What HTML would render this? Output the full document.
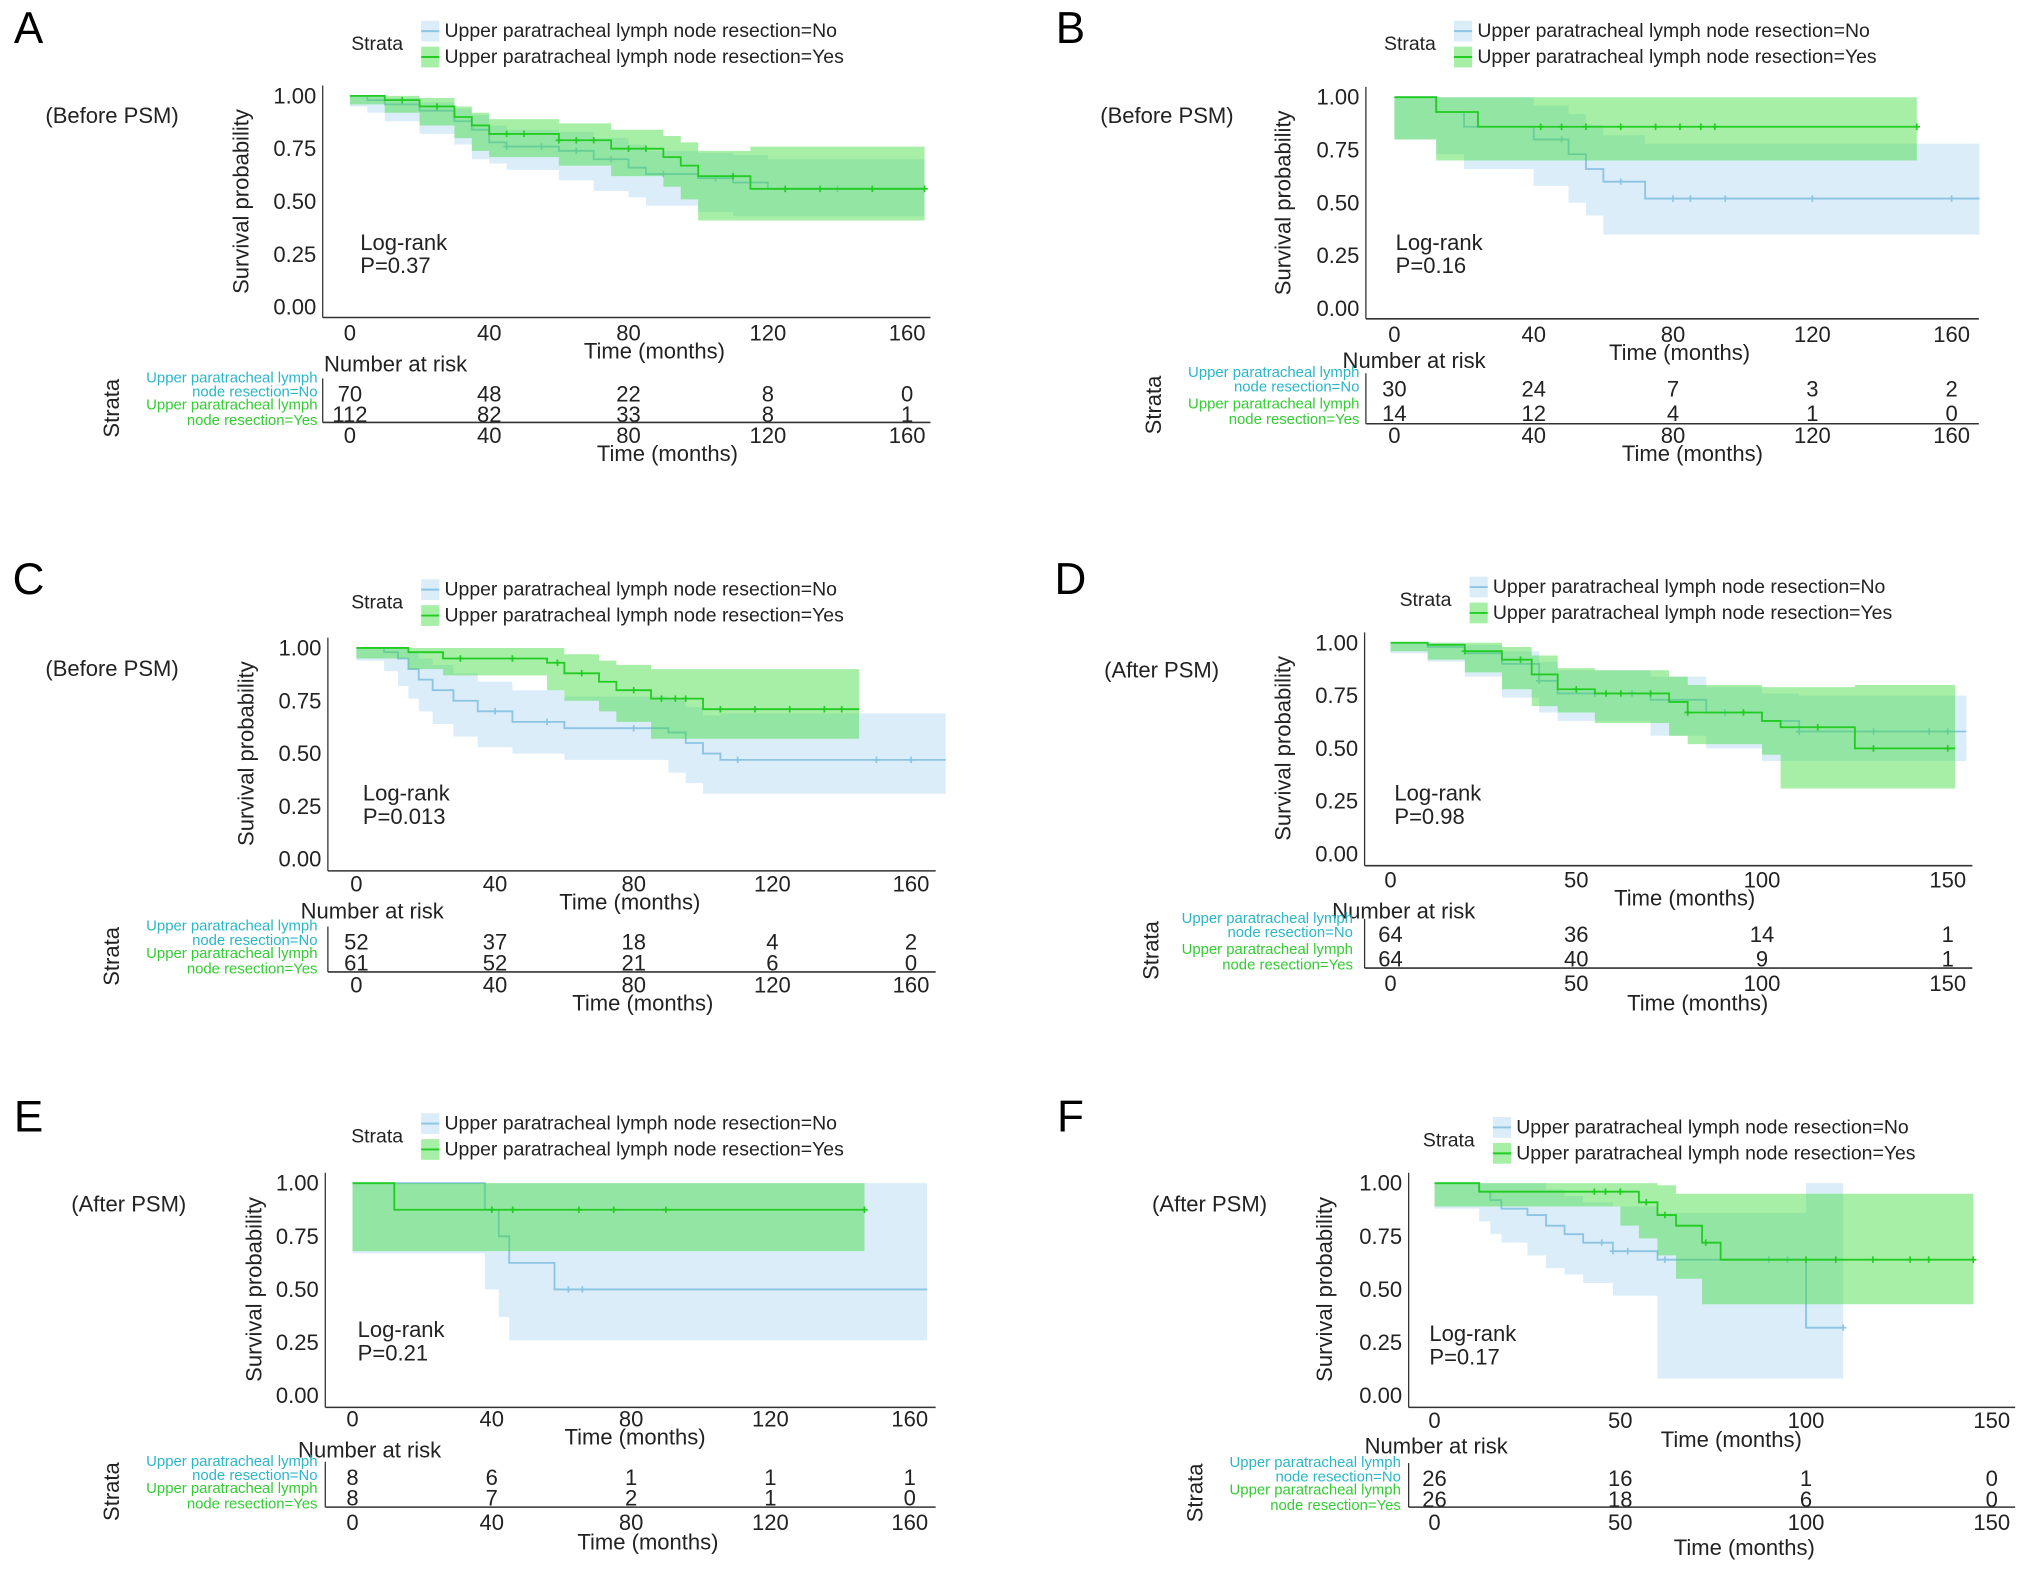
<!DOCTYPE html>
<html><head><meta charset="utf-8">
<style>
html,body{margin:0;padding:0;background:#fff;}
svg{display:block;font-family:"Liberation Sans",Arial,sans-serif;}
</style></head>
<body>
<svg id="fig" width="2032" height="1574" viewBox="0 0 1568 1214.6" xmlns="http://www.w3.org/2000/svg"></svg>
<script>
// ===== DATA =====
// Panel A
const A_noT  = [0,5,10,20,30,35,40,45,60,70,80,85,100,110,120,165];
const A_noS  = [1,.98,.96,.93,.88,.84,.78,.76,.74,.70,.66,.63,.61,.59,.56,.56];
const A_noLo = [1,.95,.92,.88,.82,.77,.70,.68,.65,.60,.55,.52,.48,.45,.43,.43];
const A_noHi = [1,1,.99,.97,.94,.91,.86,.84,.83,.80,.77,.74,.73,.72,.70,.70];
const A_yesT  = [0,10,20,30,35,40,60,75,90,95,100,115,155,165];
const A_yesS  = [1,.98,.95,.90,.86,.82,.79,.75,.71,.67,.62,.56,.56,.56];
const A_yesLo = [1,.96,.92,.86,.80,.74,.71,.67,.62,.57,.51,.41,.41,.41];
const A_yesHi = [1,1,.99,.95,.92,.89,.87,.84,.81,.78,.74,.76,.76,.76];
const A_noCens = [45,55,65,75,90,105,125,140];
const A_yesCens = [15,25,45,50,60,65,70,80,85,110,125,135,150,165];
const A_risk = [[70,48,22,8,0],[112,82,33,8,1]];
// Panel B
const B_noT  = [0,12,20,40,50,55,60,72,168];
const B_noS  = [1,.93,.86,.80,.73,.66,.60,.52,.52];
const B_noLo = [1,.80,.73,.66,.58,.50,.44,.35,.35];
const B_noHi = [1,1,1,.96,.92,.87,.82,.78,.78];
const B_yesT  = [0,12,24,150];
const B_yesS  = [1,.93,.86,.86];
const B_yesLo = [1,.80,.70,.70];
const B_yesHi = [1,1,1,1];
const B_noCens = [48,65,80,85,95,120,160];
const B_yesCens = [42,48,55,65,75,82,88,92,150];
const B_risk = [[30,24,7,3,2],[14,12,4,1,0]];
// Panel C
const C_noT  = [0,8,12,15,18,22,28,35,45,60,90,95,100,105,170];
const C_noS  = [1,.98,.95,.90,.85,.80,.75,.70,.65,.62,.60,.55,.50,.47,.47];
const C_noLo = [1,.94,.89,.82,.76,.70,.64,.58,.53,.50,.47,.41,.36,.31,.31];
const C_noHi = [1,1,1,.98,.95,.92,.88,.84,.80,.77,.76,.72,.68,.69,.69];
const C_yesT  = [0,15,25,55,60,70,75,85,100,145];
const C_yesS  = [1,.98,.95,.93,.88,.84,.80,.76,.71,.71];
const C_yesLo = [1,.95,.90,.87,.80,.75,.70,.65,.57,.57];
const C_yesHi = [1,1,1,1,.97,.94,.92,.90,.90,.90];
const C_noCens = [40,55,80,110,150,160];
const C_yesCens = [30,45,58,65,80,88,92,95,105,115,125,135,140];
const C_risk = [[52,37,18,4,2],[61,52,21,6,0]];
// Panel D
const D_noT  = [0,10,20,30,40,45,70,85,100,110,155];
const D_noS  = [1,.98,.95,.90,.82,.76,.73,.67,.63,.58,.58];
const D_noLo = [1,.95,.91,.84,.74,.67,.63,.56,.50,.44,.44];
const D_noHi = [1,1,.99,.96,.91,.87,.84,.79,.76,.75,.75];
const D_yesT  = [0,10,20,30,38,45,55,75,80,100,105,125,152];
const D_yesS  = [1,.99,.96,.92,.85,.78,.76,.72,.67,.63,.60,.50,.50];
const D_yesLo = [1,.96,.92,.86,.78,.70,.67,.62,.56,.52,.47,.31,.31];
const D_yesHi = [1,1,1,.98,.94,.88,.87,.84,.80,.79,.79,.80,.80];
const D_noCens = [40,55,65,90,110,130,145,150];
const D_yesCens = [20,35,50,58,62,70,80,95,115,130,150];
const D_risk = [[64,36,14,1],[64,40,9,1]];
// Panel E
const E_noT  = [0,38,42,45,58,165];
const E_noS  = [1,.875,.75,.625,.50,.50];
const E_noLo = [1,.67,.50,.37,.26,.26];
const E_noHi = [1,1,1,1,1,1];
const E_yesT  = [0,12,147];
const E_yesS  = [1,.875,.875];
const E_yesLo = [1,.68,.68];
const E_yesHi = [1,1,1];
const E_noCens = [62,66];
const E_yesCens = [40,46,65,75,90,147];
const E_risk = [[8,6,1,1,1],[8,7,2,1,0]];
// Panel F
const F_noT  = [0,12,15,18,25,30,35,40,48,60,100,110];
const F_noS  = [1,.96,.92,.88,.85,.80,.76,.72,.68,.64,.32,.32];
const F_noLo = [1,.88,.82,.76,.72,.66,.60,.57,.53,.47,.08,.08];
const F_noHi = [1,1,1,1,1,.97,.94,.91,.89,.86,1,1];
const F_yesT  = [0,12,50,55,60,65,72,77,145];
const F_yesS  = [1,.96,.96,.91,.85,.80,.72,.64,.64];
const F_yesLo = [1,.89,.89,.80,.74,.66,.55,.43,.43];
const F_yesHi = [1,1,1,1,.99,.95,.95,.95,.95];
const F_noCens = [45,48,52,62,90,95,110];
const F_yesCens = [43,46,50,57,62,73,100,108,118,128,133,145];
const F_risk = [[26,16,1,0],[26,18,6,0]];

// ===== LAYOUT (not data) =====
const panels = [
 {id:'a',letter:'A',lx:22,ly:22,tag:'(Before PSM)',tx:35,ty:89,p:'P=0.37',ax0:270,ax1:700,tmax:160,ticks:[0,40,80,120,160],yT:74,yB:237,axL:249,axR:718,axY:245,tickY:257,timeX:505,timeY:271,narX:250,narY:281,r1:304,r2:320,rAx:326,rTick:336,rTime:350,strX:86,lblX:245,legX:343,legY:24,strataX:271,lrX:278,lrY:187,ylabX:186,
  no:[A_noT,A_noS,A_noLo,A_noHi,A_noCens],yes:[A_yesT,A_yesS,A_yesLo,A_yesHi,A_yesCens],risk:A_risk},
 {id:'b',letter:'B',lx:826,ly:22,tag:'(Before PSM)',tx:849,ty:89,p:'P=0.16',ax0:1076,ax1:1506,tmax:160,ticks:[0,40,80,120,160],yT:75,yB:238,axL:1054,axR:1527,axY:246,tickY:258,timeX:1296,timeY:272,narX:1036,narY:278,r1:300,r2:319,rAx:327,rTick:336,rTime:350,strX:890,lblX:1049,legX:1140,legY:24,strataX:1068,lrX:1077,lrY:187,ylabX:990,
  no:[B_noT,B_noS,B_noLo,B_noHi,B_noCens],yes:[B_yesT,B_yesS,B_yesLo,B_yesHi,B_yesCens],risk:B_risk},
 {id:'c',letter:'C',lx:22,ly:447,tag:'(Before PSM)',tx:35,ty:516,p:'P=0.013',ax0:275,ax1:703,tmax:160,ticks:[0,40,80,120,160],yT:500,yB:663,axL:253,axR:722,axY:672,tickY:682,timeX:486,timeY:696,narX:232,narY:703,r1:727,r2:743,rAx:750,rTick:760,rTime:774,strX:86,lblX:245,legX:343,legY:455,strataX:271,lrX:280,lrY:612,ylabX:190,
  no:[C_noT,C_noS,C_noLo,C_noHi,C_noCens],yes:[C_yesT,C_yesS,C_yesLo,C_yesHi,C_yesCens],risk:C_risk},
 {id:'d',letter:'D',lx:826,ly:447,tag:'(After PSM)',tx:852,ty:517,p:'P=0.98',ax0:1073,ax1:1503,tmax:150,ticks:[0,50,100,150],yT:496,yB:659,axL:1053,axR:1522,axY:668,tickY:679,timeX:1300,timeY:693,narX:1028,narY:703,r1:721,r2:740,rAx:747,rTick:759,rTime:774,strX:888,lblX:1044,legX:1152,legY:453,strataX:1080,lrX:1076,lrY:612,ylabX:990,
  no:[D_noT,D_noS,D_noLo,D_noHi,D_noCens],yes:[D_yesT,D_yesS,D_yesLo,D_yesHi,D_yesCens],risk:D_risk},
 {id:'e',letter:'E',lx:22,ly:862,tag:'(After PSM)',tx:55,ty:929,p:'P=0.21',ax0:272,ax1:702,tmax:160,ticks:[0,40,80,120,160],yT:913,yB:1077,axL:251,axR:722,axY:1086,tickY:1095,timeX:490,timeY:1109,narX:230,narY:1119,r1:1140,r2:1156,rAx:1163,rTick:1175,rTime:1190,strX:86,lblX:245,legX:343,legY:867,strataX:271,lrX:276,lrY:1026,ylabX:196,
  no:[E_noT,E_noS,E_noLo,E_noHi,E_noCens],yes:[E_yesT,E_yesS,E_yesLo,E_yesHi,E_yesCens],risk:E_risk},
 {id:'f',letter:'F',lx:826,ly:862,tag:'(After PSM)',tx:889,ty:929,p:'P=0.17',ax0:1107,ax1:1537,tmax:150,ticks:[0,50,100,150],yT:913,yB:1077,axL:1087,axR:1555,axY:1086,tickY:1096,timeX:1336,timeY:1111,narX:1053,narY:1116,r1:1141,r2:1157,rAx:1163,rTick:1175,rTime:1194,strX:922,lblX:1081,legX:1170,legY:870,strataX:1098,lrX:1103,lrY:1029,ylabX:1022,
  no:[F_noT,F_noS,F_noLo,F_noHi,F_noCens],yes:[F_yesT,F_yesS,F_yesLo,F_yesHi,F_yesCens],risk:F_risk}
];
const NS='http://www.w3.org/2000/svg';
const svg=document.getElementById('fig');
function mk(tag,attrs,parent,text){const e=document.createElementNS(NS,tag);for(const k in attrs)e.setAttribute(k,attrs[k]);if(text!==undefined)e.textContent=text;(parent||svg).appendChild(e);return e;}
const COL={no:{line:'#8cc4e4',fill:'rgba(173,216,240,0.45)',txt:'#2bb6c8'},yes:{line:'#22cc22',fill:'rgba(60,220,60,0.45)',txt:'#33cc33'}};

panels.forEach(P=>{
  const g=mk('g',{});
  
  
  const X=t=>P.ax0+(P.ax1-P.ax0)*t/P.tmax;
  const Y=s=>P.yB-(P.yB-P.yT)*s;
  let e;
  e=mk('text',{x:P.lx,y:P.ly,'font-size':34,'dominant-baseline':'central','text-anchor':'middle',fill:'#000'},g,P.letter);
  
  e=mk('text',{x:P.tx,y:P.ty,'font-size':17,'dominant-baseline':'central',fill:'#222'},g,P.tag);
  
  // legend
  e=mk('text',{x:P.strataX,y:P.legY+10,'font-size':15,'dominant-baseline':'central',fill:'#222'},g,'Strata');
  
  ['no','yes'].forEach((k,i)=>{
    const ly=P.legY+i*20;
    const lg=mk('g',{},g);
    
    mk('rect',{x:P.legX-18,y:ly-8,width:14,height:16,fill:COL[k].fill},lg);
    mk('line',{x1:P.legX-18,x2:P.legX-4,y1:ly,y2:ly,stroke:COL[k].line,'stroke-width':1.5},lg);
    mk('text',{x:P.legX,y:ly,'font-size':15,'dominant-baseline':'central',fill:'#222'},lg,'Upper paratracheal lymph node resection='+(k==='no'?'No':'Yes'));
  });
  // axes
  e=mk('line',{x1:P.axL,x2:P.axL,y1:P.yT-8,y2:P.axY,stroke:'#333','stroke-width':1},g);
  
  e=mk('line',{x1:P.axL,x2:P.axR,y1:P.axY,y2:P.axY,stroke:'#333','stroke-width':1.2},g);
  
  [0,.25,.5,.75,1].forEach(v=>{
    e=mk('text',{x:P.axL-5,y:Y(v),'font-size':17,'text-anchor':'end','dominant-baseline':'central',fill:'#222'},g,v.toFixed(2));
    
  });
  P.ticks.forEach(t=>{
    e=mk('text',{x:X(t),y:P.tickY,'font-size':17,'text-anchor':'middle','dominant-baseline':'central',fill:'#222'},g,String(t));
    
  });
  e=mk('text',{x:P.timeX,y:P.timeY,'font-size':17,'text-anchor':'middle','dominant-baseline':'central',fill:'#222'},g,'Time (months)');
  
  e=mk('text',{x:P.ylabX,y:(P.yT+P.yB)/2,'font-size':17,'text-anchor':'middle','dominant-baseline':'central',fill:'#222',transform:`rotate(-90 ${P.ylabX} ${(P.yT+P.yB)/2})`},g,'Survival probability');
  
  // curves
  ['no','yes'].forEach(k=>{
    const [T,S,Lo,Hi,C]=P[k];
    let up='M'+X(T[0])+' '+Y(Hi[0]);
    for(let i=1;i<T.length;i++) up+=' H'+X(T[i])+' V'+Y(Hi[i]);
    let lo='';
    for(let i=T.length-1;i>0;i--) lo+=' V'+Y(Lo[i])+' H'+X(T[i-1]);
    lo+=' V'+Y(Lo[0])+' Z';
    e=mk('path',{d:up+' H'+X(T[T.length-1])+lo,fill:COL[k].fill,stroke:'none'},g);
    
    let d='M'+X(T[0])+' '+Y(S[0]);
    for(let i=1;i<T.length;i++) d+=' H'+X(T[i])+' V'+Y(S[i]);
    e=mk('path',{d:d,fill:'none',stroke:COL[k].line,'stroke-width':1.4},g);
    
    C.forEach(t=>{
      let s=S[0];for(let i=0;i<T.length;i++) if(T[i]<=t) s=S[i];
      e=mk('path',{d:`M${X(t)-2.5} ${Y(s)} h5 M${X(t)} ${Y(s)-2.5} v5`,stroke:COL[k].line,'stroke-width':1.3},g);
      
    });
  });
  e=mk('text',{x:P.lrX,y:P.lrY,'font-size':17,'dominant-baseline':'central',fill:'#222'},g,'Log-rank');
  
  e=mk('text',{x:P.lrX,y:P.lrY+18,'font-size':17,'dominant-baseline':'central',fill:'#222'},g,P.p);
  
  // risk table
  e=mk('text',{x:P.narX,y:P.narY,'font-size':17,'dominant-baseline':'central',fill:'#222'},g,'Number at risk');
  
  const sy=(P.r1+P.r2)/2+3;
  e=mk('text',{x:P.strX,y:sy,'font-size':17,'text-anchor':'middle','dominant-baseline':'central',fill:'#222',transform:`rotate(-90 ${P.strX} ${sy})`},g,'Strata');
  
  ['no','yes'].forEach((k,i)=>{
    const ry=i===0?P.r1:P.r2;
    const l1=i===0?ry-12:ry-7, l2=i===0?ry-1:ry+5;
    e=mk('text',{x:P.lblX,y:l1,'font-size':11.5,'text-anchor':'end','dominant-baseline':'central',fill:COL[k].txt},g,'Upper paratracheal lymph');
    
    e=mk('text',{x:P.lblX,y:l2,'font-size':11.5,'text-anchor':'end','dominant-baseline':'central',fill:COL[k].txt},g,'node resection='+(k==='no'?'No':'Yes'));
    
    P.risk[i].forEach((n,j)=>{
      e=mk('text',{x:X(P.ticks[j]),y:ry,'font-size':17,'text-anchor':'middle','dominant-baseline':'central',fill:'#222'},g,String(n));
      
    });
  });
  e=mk('line',{x1:P.axL,x2:P.axL,y1:P.r1-12,y2:P.rAx,stroke:'#333','stroke-width':1},g);
  
  e=mk('line',{x1:P.axL,x2:P.axR,y1:P.rAx,y2:P.rAx,stroke:'#333','stroke-width':1.2},g);
  
  P.ticks.forEach(t=>{
    e=mk('text',{x:X(t),y:P.rTick,'font-size':17,'text-anchor':'middle','dominant-baseline':'central',fill:'#222'},g,String(t));
    
  });
  e=mk('text',{x:P.timeX+10,y:P.rTime,'font-size':17,'text-anchor':'middle','dominant-baseline':'central',fill:'#222'},g,'Time (months)');
  
});
</script>
</body></html>
